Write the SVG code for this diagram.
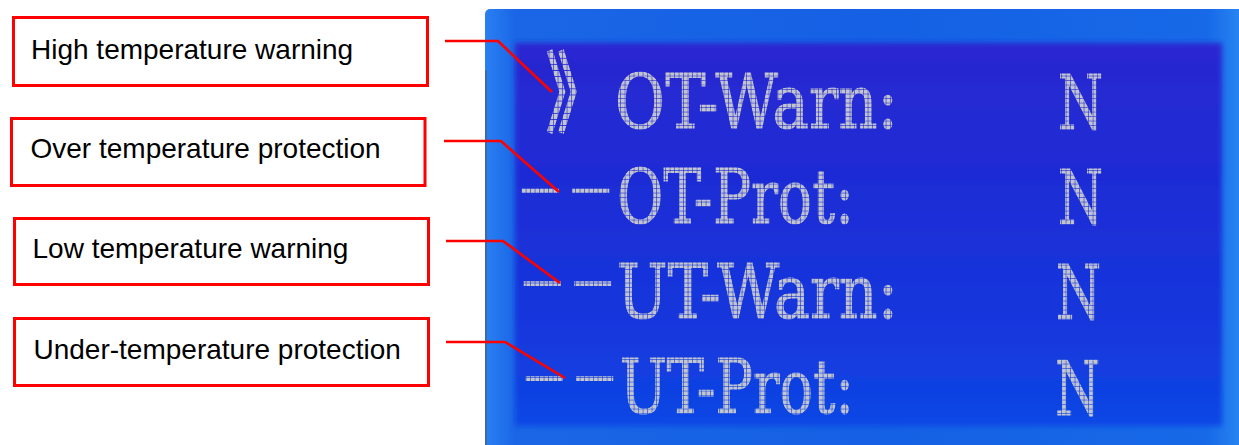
<svg xmlns="http://www.w3.org/2000/svg" width="1239" height="445" viewBox="0 0 1239 445">
  <style>
    .box { fill: #ffffff; stroke: #ff0000; stroke-width: 3; }
    .lbl { font-family: "Liberation Sans", Arial, sans-serif; font-size: 28px; fill: #000000; }
    .conn { fill: none; stroke: #ff0000; stroke-width: 2.6; stroke-linejoin: miter; }
    .lcd { font-family: "DejaVu Serif", "Liberation Serif", serif; font-size: 74px; fill: url(#dots); stroke: url(#dots); stroke-width: 1.2; }
    .dash { font-family: "Liberation Sans", Arial, sans-serif; font-size: 60px; fill: url(#dots); }
    .chev { font-family: "Noto Sans CJK SC", "Noto Sans CJK JP", sans-serif; font-size: 66px; font-weight: 700; fill: url(#dots); }
  </style>
  <defs>
    <pattern id="dots" patternUnits="userSpaceOnUse" width="4.5" height="4.5">
      <rect x="0" y="0" width="3.9" height="3.9" fill="#c3c5ce"/>
    </pattern>
    <linearGradient id="frameGrad" x1="0" y1="0" x2="1" y2="0">
      <stop offset="0" stop-color="#2a80f2"/>
      <stop offset="0.04" stop-color="#1a66e6"/>
      <stop offset="0.5" stop-color="#1560e4"/>
      <stop offset="0.95" stop-color="#1769e8"/>
      <stop offset="1" stop-color="#2a88f3"/>
    </linearGradient>
    <linearGradient id="innerGrad" x1="0" y1="0" x2="0" y2="1">
      <stop offset="0" stop-color="#2a27d0"/>
      <stop offset="0.4" stop-color="#1d2dd6"/>
      <stop offset="0.75" stop-color="#1537dc"/>
      <stop offset="1" stop-color="#0e47e5"/>
    </linearGradient>
    <filter id="soft" x="-5%" y="-5%" width="110%" height="110%">
      <feGaussianBlur stdDeviation="2.5"/>
    </filter>
  </defs>

  <rect x="0" y="0" width="1239" height="445" fill="#ffffff"/>

  <g id="lcd-screen">
    <rect x="485" y="9" width="760" height="440" rx="5" fill="url(#frameGrad)"/>
    <rect x="515" y="43" width="707" height="383" fill="url(#innerGrad)" filter="url(#soft)"/>
    <line x1="486" y1="70" x2="486" y2="445" stroke="#4b5a7a" stroke-width="2" opacity="0.6"/>
  </g>

  <g id="row-ot-warn">
    <text class="chev" x="0" y="0" transform="translate(545,126) scale(1,1.36)">》</text>
    <text class="lcd" x="615" y="128" textLength="283" lengthAdjust="spacingAndGlyphs">OT-Warn:</text>
    <text class="lcd" x="1058" y="129" textLength="45" lengthAdjust="spacingAndGlyphs">N</text>
  </g>
  <g id="row-ot-prot">
    <text class="dash" x="515" y="206" textLength="101" lengthAdjust="spacingAndGlyphs">--</text>
    <text class="lcd" x="617" y="223" textLength="237" lengthAdjust="spacingAndGlyphs">OT-Prot:</text>
    <text class="lcd" x="1058" y="224" textLength="45" lengthAdjust="spacingAndGlyphs">N</text>
  </g>
  <g id="row-ut-warn">
    <text class="dash" x="517" y="299" textLength="101" lengthAdjust="spacingAndGlyphs">--</text>
    <text class="lcd" x="617" y="318" textLength="281" lengthAdjust="spacingAndGlyphs">UT-Warn:</text>
    <text class="lcd" x="1056" y="319" textLength="45" lengthAdjust="spacingAndGlyphs">N</text>
  </g>
  <g id="row-ut-prot">
    <text class="dash" x="519" y="394" textLength="101" lengthAdjust="spacingAndGlyphs">--</text>
    <text class="lcd" x="620" y="413" textLength="234" lengthAdjust="spacingAndGlyphs">UT-Prot:</text>
    <text class="lcd" x="1055" y="415" textLength="45" lengthAdjust="spacingAndGlyphs">N</text>
  </g>

  <g id="label-high-temp-warning">
    <rect class="box" x="13.5" y="17.5" width="414" height="68"/>
    <text class="lbl" x="31" y="59">High temperature warning</text>
  </g>
  <g id="label-over-temp-protection">
    <rect class="box" x="11.5" y="118.5" width="413.5" height="67"/>
    <text class="lbl" x="30.5" y="158">Over temperature protection</text>
  </g>
  <g id="label-low-temp-warning">
    <rect class="box" x="14.5" y="218.5" width="414" height="66"/>
    <text class="lbl" x="32.5" y="258">Low temperature warning</text>
  </g>
  <g id="label-under-temp-protection">
    <rect class="box" x="14.5" y="318.5" width="414" height="67"/>
    <text class="lbl" x="33.5" y="359">Under-temperature protection</text>
  </g>

  <g id="connectors">
    <polyline class="conn" points="445,41 498,41 552,92"/>
    <polyline class="conn" points="444,141 501,141 559,192"/>
    <polyline class="conn" points="446,241 503,241 560,283"/>
    <polyline class="conn" points="446,342 505,342 565,378"/>
  </g>
</svg>
